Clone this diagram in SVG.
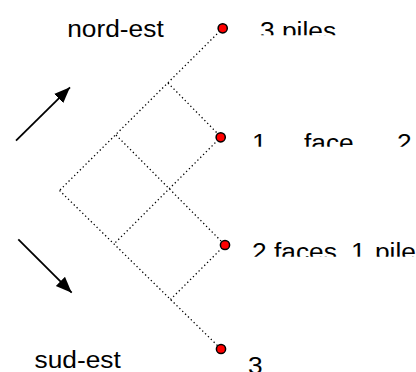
<svg xmlns="http://www.w3.org/2000/svg" width="416" height="372" viewBox="0 0 416 372">
<style>
.lbl{font-family:"Liberation Sans",Arial,sans-serif;font-size:23.5px;fill:#000}
.dot{fill:#ff0000;stroke:#000;stroke-width:1.5}
.lat{stroke:#000;stroke-width:1.3;stroke-dasharray:1.3 2.7;fill:none}
.arr{stroke:#000;stroke-width:1.8;fill:none}
</style>
<defs>
<marker id="ah" markerUnits="userSpaceOnUse" markerWidth="18" markerHeight="14" refX="16" refY="6.5" orient="auto" viewBox="0 0 18 14">
<path d="M0,0 L16,6.5 L0,13 z" fill="#000"/>
</marker>
<clipPath id="c1"><rect x="0" y="0" width="416" height="35.3"/></clipPath>
<clipPath id="c2"><rect x="0" y="100" width="416" height="46.7"/></clipPath>
<clipPath id="c3"><rect x="0" y="200" width="416" height="56.7"/></clipPath>
<clipPath id="c4"><rect x="0" y="330" width="416" height="42"/></clipPath>
</defs>
<rect width="416" height="372" fill="#fff"/>
<g id="connectors">
<line class="lat" x1="222.7" y1="28.3" x2="59.5" y2="190.5"/>
<line class="lat" x1="59.5" y1="190.5" x2="221" y2="349"/>
<line class="lat" x1="168" y1="83" x2="221" y2="137"/>
<line class="lat" x1="116" y1="135" x2="225" y2="245"/>
<line class="lat" x1="221" y1="137" x2="114" y2="244"/>
<line class="lat" x1="225" y1="245" x2="170.5" y2="299.5"/>
<line class="arr" x1="16" y1="140.7" x2="70" y2="87.3" marker-end="url(#ah)"/>
<line class="arr" x1="18.3" y1="239.3" x2="71.7" y2="292.7" marker-end="url(#ah)"/>
</g>
<g id="n1"><circle class="dot" cx="222.7" cy="28.3" r="4.6"/></g>
<g id="n2"><circle class="dot" cx="220.7" cy="137.3" r="4.6"/></g>
<g id="n3"><circle class="dot" cx="225" cy="245" r="4.6"/></g>
<g id="n4"><circle class="dot" cx="221" cy="349" r="4.6"/></g>
<g id="labels">
<text class="lbl" transform="translate(67.2,36.7) scale(1.12,1)">nord-est</text>
<text class="lbl" transform="translate(34.5,368.3) scale(1.12,1)">sud-est</text>
<g clip-path="url(#c1)"><text class="lbl" transform="translate(260,38.5) scale(1.12,1)">3 piles</text></g>
<g clip-path="url(#c2)"><text class="lbl" transform="translate(252,150.8) scale(1.12,1)">1<tspan x="46.4">face</tspan><tspan x="129.5">2</tspan></text></g>
<g clip-path="url(#c3)"><text class="lbl" transform="translate(252,259.5) scale(1.12,1)">2 faces<tspan x="88.4">1</tspan><tspan x="109.8">pile</tspan></text></g>
<g clip-path="url(#c4)"><text class="lbl" transform="translate(248,373.5) scale(1.12,1)">3</text></g>
</g>
</svg>
